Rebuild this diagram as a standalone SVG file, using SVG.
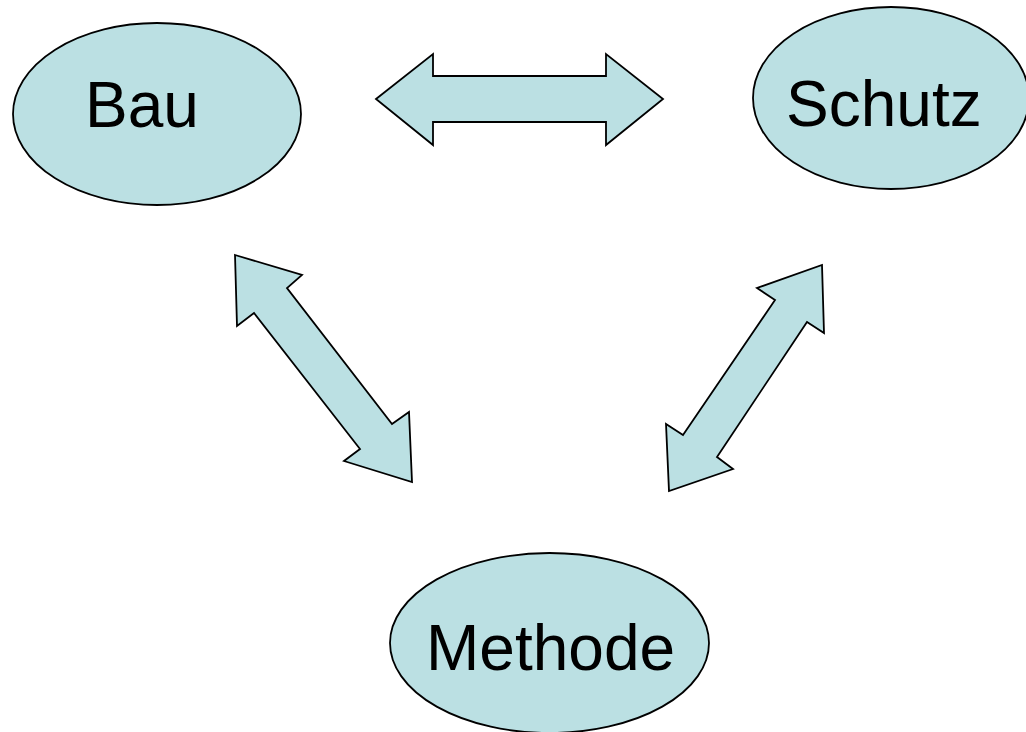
<svg xmlns="http://www.w3.org/2000/svg" width="1026" height="732" viewBox="0 0 1026 732">
<style>
.shape{fill:#BBE0E3;stroke:#000;stroke-width:1.8;stroke-linejoin:miter}
.lbl{font-family:"Liberation Sans",Arial,sans-serif;font-size:64px;fill:#000}
</style>
<rect width="1026" height="732" fill="#fff"/>
<g id="connectors">
<polygon class="shape" points="376,99 433,54 433,76 606,76 606,54 663,99 606,145 606,122 433,122 433,145"/>
<polygon class="shape" points="235,255 302,275 287,288 392,424 409,412 412,482 344,461 360,449 254,313 237,326"/>
<polygon class="shape" points="822,265 824,333 807,322 717,457 733,469 669,491 666,424 683,435 775,300 757,288"/>
</g>
<g id="bau">
<ellipse class="shape" cx="157" cy="114" rx="144" ry="91"/>
<text class="lbl" x="85" y="127">Bau</text>
</g>
<g id="schutz">
<ellipse class="shape" cx="891" cy="98" rx="138" ry="91"/>
<text class="lbl" x="786" y="126">Schutz</text>
</g>
<g id="methode">
<ellipse class="shape" cx="549.5" cy="643" rx="159.5" ry="90"/>
<text class="lbl" x="426" y="670">Methode</text>
</g>
</svg>
